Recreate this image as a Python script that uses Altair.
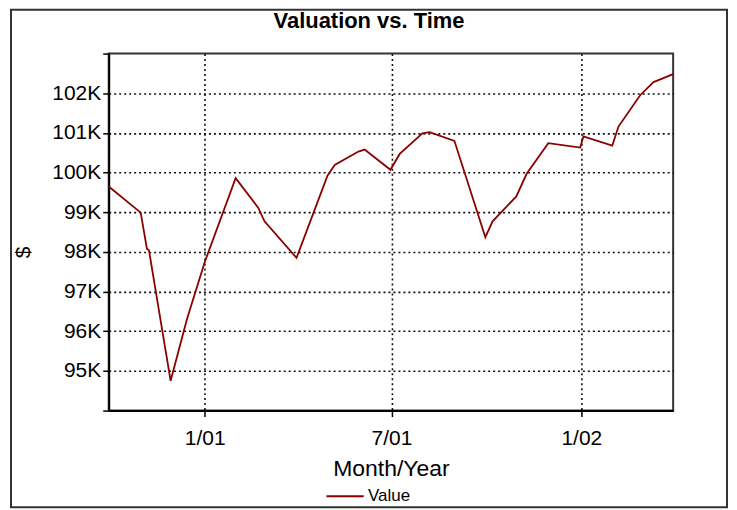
import altair as alt
import pandas as pd

# ---- data ----
dates = [
    "2000-09-30", "2000-10-31", "2000-11-06", "2000-11-08", "2000-11-29",
    "2000-12-15", "2001-01-01", "2001-01-31", "2001-02-22", "2001-02-28",
    "2001-03-31", "2001-04-30", "2001-05-07", "2001-05-30", "2001-06-05",
    "2001-06-30", "2001-07-09", "2001-07-31", "2001-08-07", "2001-08-31",
    "2001-09-30", "2001-10-07", "2001-10-30", "2001-11-09", "2001-11-30",
    "2001-12-31", "2002-01-03", "2002-01-31", "2002-02-06", "2002-02-27",
    "2002-03-12", "2002-03-31",
]
values = [
    99650, 98990, 98080, 98040, 94750,
    96320, 97740, 99860, 99110, 98770,
    97850, 99920, 100190, 100530, 100580,
    100070, 100470, 100990, 101020, 100800,
    98370, 98770, 99400, 99970, 100740,
    100630, 100910, 100680, 101160, 101950,
    102280, 102480,
]
series = ["Value"]
y_ticks = [94000, 95000, 96000, 97000, 98000, 99000, 100000, 101000, 102000, 103000]
x_ticks = ["2001-01-01", "2001-07-01", "2002-01-01"]

df = pd.DataFrame({"date": dates, "value": values, "series": series[0]})
x_tick_ms = [int(pd.Timestamp(d, tz="UTC").value // 10**6) for d in x_ticks]

FONT = "Liberation Sans"
RED = "#8B0000"

line = alt.Chart(df).mark_line(strokeWidth=1.8).encode(
    x=alt.X(
        "date:T",
        scale=alt.Scale(type="utc", nice=False),
        axis=alt.Axis(
            title="Month/Year",
            values=x_tick_ms,
            labelExpr="utcFormat(datum.value, '%-m/%y')",
            labelPadding=11,
            titlePadding=9,
            titleFontSize=23,
        ),
    ),
    y=alt.Y(
        "value:Q",
        scale=alt.Scale(domain=[y_ticks[0], y_ticks[-1]], nice=False, zero=False),
        axis=alt.Axis(
            title="$",
            values=y_ticks,
            labelExpr="(datum.value == 94000 || datum.value == 103000) ? '' : format(datum.value / 1000, 'd') + 'K'",
            gridOpacity={
                "condition": {"test": "datum.value == 94000 || datum.value == 103000", "value": 0},
                "value": 1,
            },
            labelPadding=2,
            titleX=-85,
            titleY=199,
            titleAlign="center",
            titleBaseline="middle",
        ),
    ),
    color=alt.Color(
        "series:N",
        scale=alt.Scale(domain=series, range=[RED]),
        legend=alt.Legend(
            title=None,
            orient="none",
            legendX=217,
            legendY=424,
            symbolType="stroke",
            symbolSize=1400,
            symbolStrokeWidth=2,
            labelFont=FONT,
            labelFontSize=17,
            labelOffset=3,
            labelColor="black",
        ),
    ),
)

frame = alt.Chart(pd.DataFrame({"k": [0]})).mark_rect(
    fill="transparent", stroke="#333333", strokeWidth=2
).encode(
    x=alt.value(-98), x2=alt.value(620), y=alt.value(-44), y2=alt.value(455)
)

chart = alt.layer(frame, line).properties(
    width=566,
    height=358,
    padding={"left": 101, "top": 45, "right": 56, "bottom": 98},
    autosize=alt.AutoSizeParams(type="none"),
    title=alt.Title(
        "Valuation vs. Time",
        font=FONT,
        fontSize=22,
        fontWeight="bold",
        color="black",
        anchor="middle",
        frame="group",
        dx=-22,
        dy=44,
        offset=20,
    ),
).configure(
    background="white",
).configure_view(
    stroke="#333333",
    strokeWidth=2,
).configure_axis(
    domainColor="black",
    domainWidth=2,
    tickColor="black",
    tickWidth=1.5,
    tickSize=6,
    grid=True,
    gridColor="#111111",
    gridDash=[2, 3],
    gridWidth=1.6,
    labelFont=FONT,
    labelFontSize=21,
    labelColor="black",
    titleFont=FONT,
    titleFontSize=21,
    titleFontWeight="normal",
    titleColor="black",
)

chart.save("out.html", embed_options={"renderer": "svg", "actions": False})
